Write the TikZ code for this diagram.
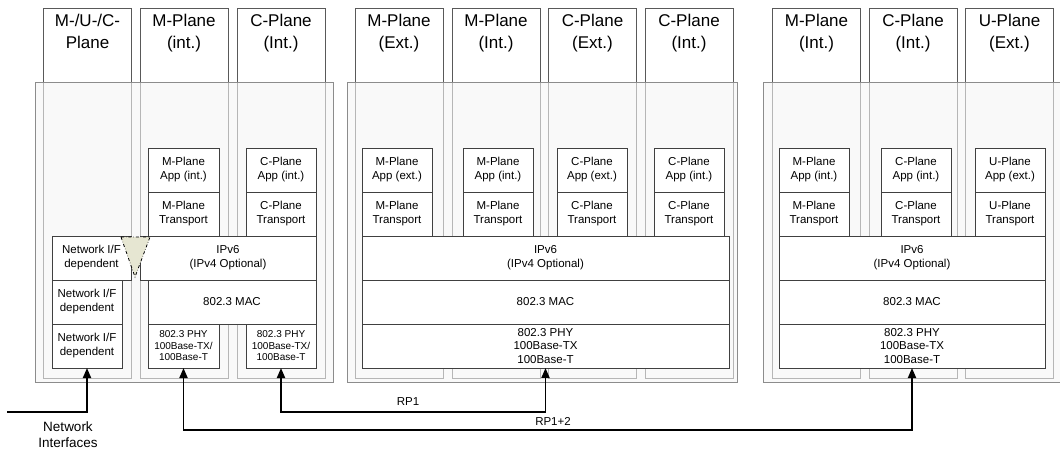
\documentclass[tikz,border=0pt]{standalone}
\usepackage{fontspec}
\setmainfont{Liberation Sans}
\usetikzlibrary{arrows.meta,positioning}
\definecolor{gapfill}{HTML}{E6E6D2}

\begin{document}
\begin{tikzpicture}[x=1pt, y=-1pt,
  >={Triangle[width=8pt,length=10pt]},
  plane/.style={draw=black!65, line width=0.8pt, minimum width=88pt, minimum height=370pt, inner sep=0pt, outer sep=0pt},
  ptxt/.style={font=\fontsize{17}{22}\selectfont, align=center, inner sep=0pt},
  panel/.style={draw=black!45, line width=1pt, fill=black!4, fill opacity=0.6, minimum height=300pt, inner sep=0pt, outer sep=0pt},
  blk/.style={draw=black!75, line width=0.8pt, fill=white, align=center, inner sep=0pt, outer sep=0pt, minimum height=44pt, font=\fontsize{11.5}{14}\selectfont},
  phys/.style={blk, font=\fontsize{10}{11.5}\selectfont},
  gap/.style={draw=black, fill=gapfill, dash dot, line width=0.8pt},
  link/.style={line width=1.8pt, black},
  lbl/.style={font=\fontsize{11.5}{14}\selectfont, inner sep=0pt}]

  \useasboundingbox[fill=white] (0,0) rectangle (1060,450);

  % --- plane columns with their titles ---
  \node[plane] (colA) at (87.5,193) {};
  \node[plane] (colB) at (184,193) {};
  \node[plane] (colC) at (281,193) {};
  \node[plane] (colD) at (399,193) {};
  \node[plane] (colE) at (496,193) {};
  \node[plane] (colF) at (592.5,193) {};
  \node[plane] (colG) at (689,193) {};
  \node[plane] (colH) at (816.5,193) {};
  \node[plane] (colI) at (913,193) {};
  \node[plane] (colJ) at (1009.5,193) {};
  \node[ptxt, below=6pt of colA.north] (tA) {M-/U-/C-\\Plane};
  \node[ptxt, below=6pt of colB.north] (tB) {M-Plane\\(int.)};
  \node[ptxt, below=6pt of colC.north] (tC) {C-Plane\\(Int.)};
  \node[ptxt, below=6pt of colD.north] (tD) {M-Plane\\(Ext.)};
  \node[ptxt, below=6pt of colE.north] (tE) {M-Plane\\(Int.)};
  \node[ptxt, below=6pt of colF.north] (tF) {C-Plane\\(Ext.)};
  \node[ptxt, below=6pt of colG.north] (tG) {C-Plane\\(Int.)};
  \node[ptxt, below=6pt of colH.north] (tH) {M-Plane\\(Int.)};
  \node[ptxt, below=6pt of colI.north] (tI) {C-Plane\\(Int.)};
  \node[ptxt, below=6pt of colJ.north] (tJ) {U-Plane\\(Ext.)};

  % --- the three units ---
  \node[panel, minimum width=298pt] (unitA) at (184,232) {};
  \node[panel, minimum width=390pt] (unitB) at (542,232) {};
  \node[panel, minimum width=299pt] (unitC) at (912.5,232) {};

  % --- first unit ---
  \node[blk, minimum width=71pt] (appB) at (183.5,170) {M-Plane\\App (int.)};
  \node[blk, minimum width=71pt, below=0pt of appB] (trB) {M-Plane\\Transport};
  \node[blk, minimum width=70pt] (appC) at (281,170) {C-Plane\\App (int.)};
  \node[blk, minimum width=70pt, below=0pt of appC] (trC) {C-Plane\\Transport};
  \node[blk, minimum width=176pt] (ipA) at (228,258) {IPv6\\(IPv4 Optional)};
  \node[blk, minimum width=168pt] (macA) at (232,302) {802.3 MAC};
  \node[phys, minimum width=71pt] (phyB) at (183.5,346) {802.3 PHY\\100Base-TX/\\100Base-T};
  \node[phys, minimum width=70pt] (phyC) at (281,346) {802.3 PHY\\100Base-TX/\\100Base-T};
  \node[blk, minimum width=79pt] (nif1) at (91.5,258) {Network I/F\\dependent};
  \node[blk, minimum width=70pt] (nif2) at (87,302) {Network I/F\\dependent};
  \node[blk, minimum width=70pt] (nif3) at (87,346) {Network I/F\\dependent};
  \filldraw[gap] (121,237) -- (150,237) -- (135,277) -- cycle;

  % --- second unit ---
  \node[blk, minimum width=70pt] (appD) at (397,170) {M-Plane\\App (ext.)};
  \node[blk, minimum width=70pt, below=0pt of appD] (trD) {M-Plane\\Transport};
  \node[blk, minimum width=70pt] (appE) at (498,170) {M-Plane\\App (int.)};
  \node[blk, minimum width=70pt, below=0pt of appE] (trE) {M-Plane\\Transport};
  \node[blk, minimum width=70pt] (appF) at (592,170) {C-Plane\\App (ext.)};
  \node[blk, minimum width=70pt, below=0pt of appF] (trF) {C-Plane\\Transport};
  \node[blk, minimum width=70pt] (appG) at (689,170) {C-Plane\\App (int.)};
  \node[blk, minimum width=70pt, below=0pt of appG] (trG) {C-Plane\\Transport};
  \node[blk, minimum width=367pt] (ipM) at (545.5,258) {IPv6\\(IPv4 Optional)};
  \node[blk, minimum width=367pt, below=0pt of ipM] (macM) {802.3 MAC};
  \node[blk, minimum width=367pt, below=0pt of macM, font=\fontsize{11.5}{13.5}\selectfont] (phyM) {802.3 PHY\\100Base-TX\\100Base-T};

  % --- third unit ---
  \node[blk, minimum width=70pt] (appH) at (814,170) {M-Plane\\App (int.)};
  \node[blk, minimum width=70pt, below=0pt of appH] (trH) {M-Plane\\Transport};
  \node[blk, minimum width=70pt] (appI) at (916,170) {C-Plane\\App (int.)};
  \node[blk, minimum width=70pt, below=0pt of appI] (trI) {C-Plane\\Transport};
  \node[blk, minimum width=70pt] (appJ) at (1010,170) {U-Plane\\App (ext.)};
  \node[blk, minimum width=70pt, below=0pt of appJ] (trJ) {U-Plane\\Transport};
  \node[blk, minimum width=266pt] (ipR) at (912,258) {IPv6\\(IPv4 Optional)};
  \node[blk, minimum width=266pt, below=0pt of ipR] (macR) {802.3 MAC};
  \node[blk, minimum width=266pt, below=0pt of macR, font=\fontsize{11.5}{13.5}\selectfont] (phyR) {802.3 PHY\\100Base-TX\\100Base-T};

  % --- links ---
  \coordinate (niIn) at (7,412);
  \coordinate (rp1) at (400,412);
  \coordinate (rp12) at (500,430);
  \draw[link,->] (niIn) -| (nif3.south);
  \draw[link,<->] (phyC.south) |- (rp1) -| (phyM.south);
  \draw[link,<->] (phyB.south) |- (rp12) -| (phyR.south);
  \node[lbl] (rp1txt) at (408,402) {RP1};
  \node[lbl] (rp12txt) at (553,421) {RP1+2};
  \node[lbl, align=center, font=\fontsize{13.5}{16}\selectfont] (nitxt) at (68,435) {Network\\Interfaces};
\end{tikzpicture}
\end{document}
